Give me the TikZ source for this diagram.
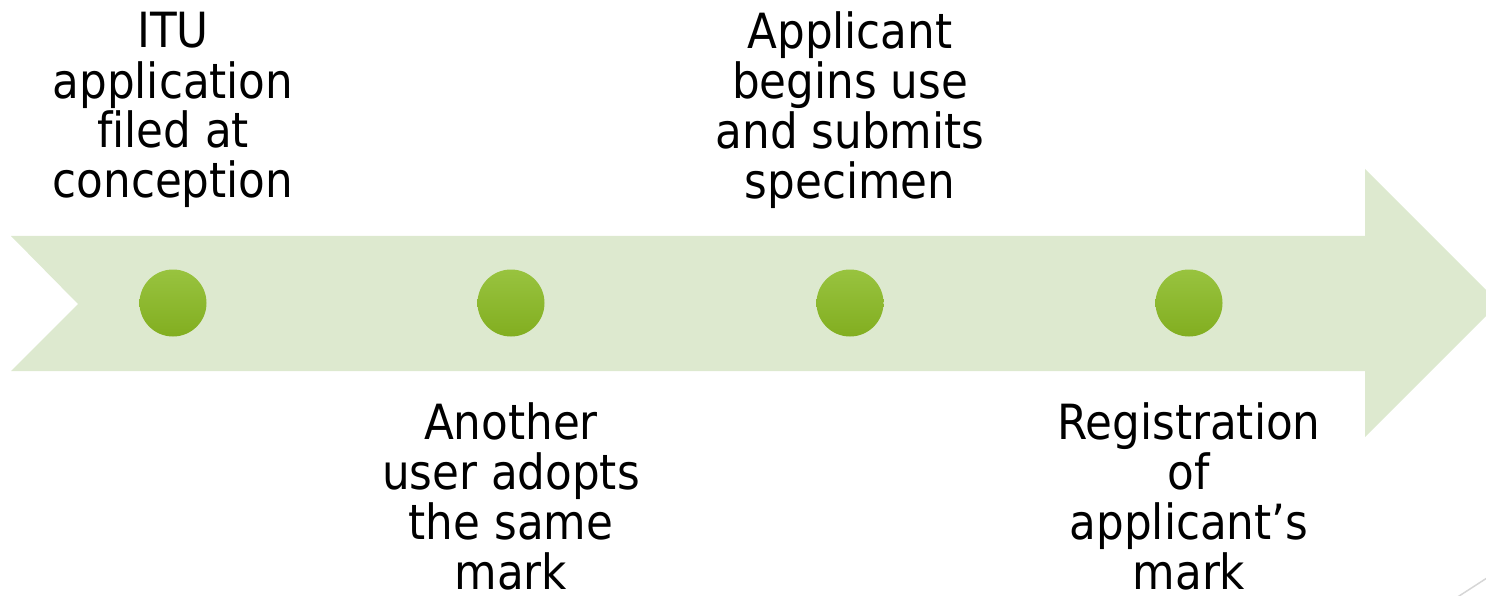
\documentclass[tikz,border=0pt]{standalone}
\usepackage{fontspec}
\setmainfont[Ligatures=NoCommon]{DejaVu Sans Condensed}
\definecolor{band}{HTML}{DDE9CF}
\definecolor{dottop}{HTML}{98C33F}
\definecolor{dotbot}{HTML}{82AE20}
\definecolor{corner}{HTML}{D6D6D6}
\begin{document}
\begin{tikzpicture}[x=1pt,y=-1pt,
  dot/.style={circle,minimum size=67pt,inner sep=0pt,top color=dottop,bottom color=dotbot,draw=none},
  lbl/.style={align=center,inner sep=0pt,font=\fontsize{48.5}{50}\selectfont,anchor=base}]
\useasboundingbox (0,0) rectangle (1486,596);
\clip (0,0) rectangle (1486,596);
% arrow band
\fill[band] (11,236) -- (1365,236) -- (1365,169) -- (1499,303) -- (1365,437)
  -- (1365,371) -- (11,371) -- (78,304) -- cycle;
% dots
\node[dot] (d1) at (173,303) {};
\node[dot] (d2) at (511,303) {};
\node[dot] (d3) at (850,303) {};
\node[dot] (d4) at (1189,303) {};
% labels (anchored at the baseline of their last line)
\node[lbl] (t1) at (173,198) {ITU\\application\\filed at\\conception};
\node[lbl] (t3) at (850,199) {Applicant\\begins use\\and submits\\specimen};
\node[lbl] (t2) at (511,589) {Another\\user adopts\\the same\\mark};
\node[lbl] (t4) at (1189,589) {Registration\\of\\applicant’s\\mark};
% slide corner
\coordinate (c1) at (1456,598);
\coordinate (c2) at (1490,576);
\draw[corner,line width=1.5pt] (c1) -- (c2);
\end{tikzpicture}
\end{document}
